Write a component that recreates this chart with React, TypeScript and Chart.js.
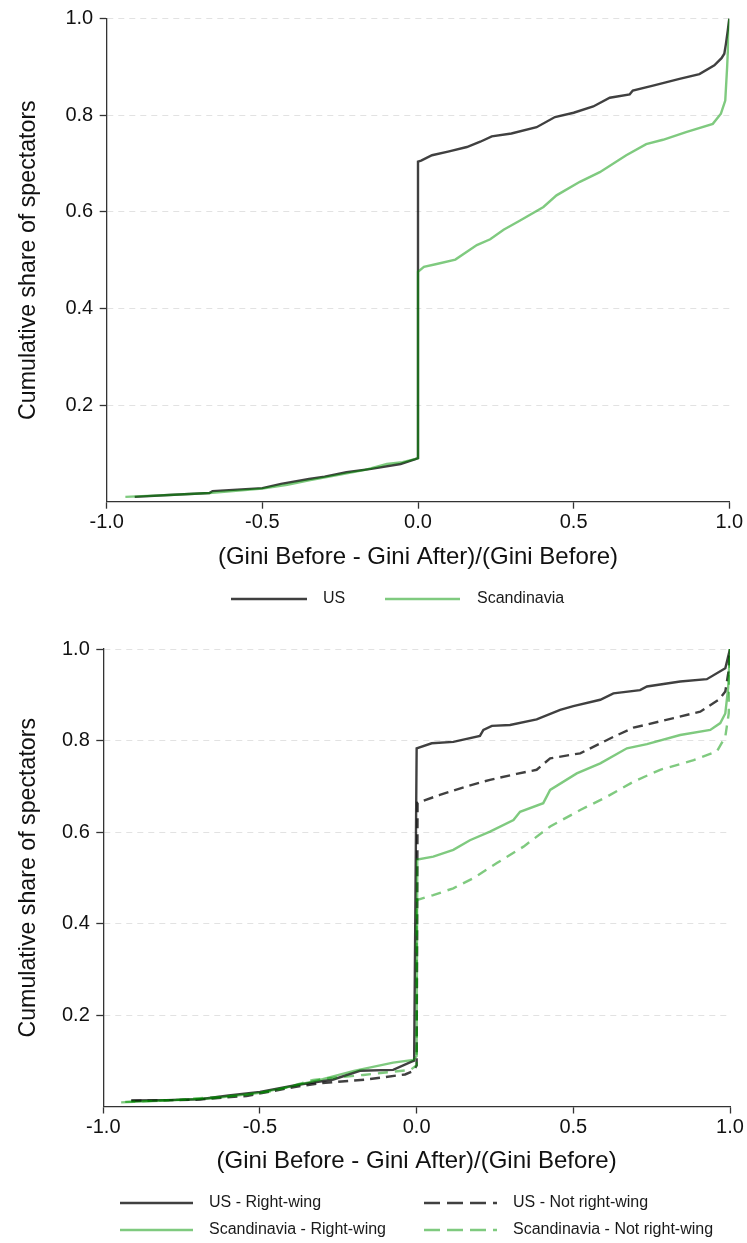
import React, { useEffect, useRef } from 'react';
import { Chart, registerables } from 'chart.js';

Chart.register(...registerables);

const FONT = '"Liberation Sans", Arial, Helvetica, sans-serif';
Chart.defaults.font.family = FONT;

const DARK = 'rgba(0,0,0,0.75)';
const GREEN = 'rgba(0,150,0,0.5)';

const X_TITLE = '(Gini Before - Gini After)/(Gini Before)';
const Y_TITLE = 'Cumulative share of spectators';
const xTicks = [-1, -0.5, 0, 0.5, 1];
const yTicks = [0.2, 0.4, 0.6, 0.8, 1.0];

// ---- Top panel ----
const topUsX = [-0.91, -0.8, -0.67, -0.66, -0.5, -0.44, -0.35, -0.3, -0.23, -0.15, -0.056, -0.008, 0, 0, 0.01, 0.045, 0.1, 0.157, 0.2, 0.237, 0.3, 0.381, 0.44, 0.5, 0.563, 0.616, 0.68, 0.69, 0.755, 0.84, 0.904, 0.952, 0.975, 0.984, 0.989, 0.995, 1.0];
const topUsY = [0.010, 0.014, 0.018, 0.022, 0.028, 0.037, 0.047, 0.052, 0.061, 0.068, 0.078, 0.088, 0.09, 0.704, 0.706, 0.717, 0.725, 0.734, 0.745, 0.756, 0.762, 0.775, 0.796, 0.805, 0.818, 0.836, 0.843, 0.851, 0.861, 0.875, 0.885, 0.903, 0.918, 0.927, 0.947, 0.975, 1.0];

const topScX = [-0.94, -0.8, -0.67, -0.5, -0.42, -0.35, -0.25, -0.17, -0.1, -0.05, -0.01, 0, 0, 0.019, 0.06, 0.12, 0.189, 0.232, 0.275, 0.328, 0.403, 0.445, 0.52, 0.584, 0.669, 0.733, 0.787, 0.861, 0.947, 0.973, 0.987, 0.993, 1.0];
const topScY = [0.010, 0.014, 0.018, 0.027, 0.035, 0.044, 0.056, 0.066, 0.078, 0.082, 0.088, 0.09, 0.476, 0.486, 0.492, 0.501, 0.531, 0.543, 0.563, 0.582, 0.61, 0.634, 0.662, 0.682, 0.717, 0.74, 0.749, 0.765, 0.782, 0.803, 0.83, 0.899, 1.0];

// ---- Bottom panel ----
const usRightX = [-0.911, -0.8, -0.692, -0.6, -0.5, -0.383, -0.266, -0.181, -0.075, -0.016, -0.008, 0, 0.048, 0.117, 0.202, 0.213, 0.24, 0.298, 0.383, 0.458, 0.5, 0.586, 0.628, 0.713, 0.735, 0.841, 0.926, 0.985, 1.0];
const usRightY = [0.013, 0.014, 0.016, 0.024, 0.032, 0.047, 0.059, 0.078, 0.08, 0.098, 0.1, 0.783, 0.794, 0.797, 0.81, 0.823, 0.832, 0.834, 0.846, 0.867, 0.875, 0.889, 0.903, 0.91, 0.918, 0.929, 0.934, 0.958, 1.0];

const usNotX = [-0.91, -0.7, -0.543, -0.394, -0.309, -0.16, -0.037, -0.01, 0, 0.003, 0.074, 0.16, 0.234, 0.319, 0.383, 0.426, 0.522, 0.628, 0.692, 0.82, 0.905, 0.964, 0.985, 0.995, 1.0];
const usNotY = [0.012, 0.015, 0.023, 0.042, 0.051, 0.059, 0.07, 0.078, 0.09, 0.664, 0.681, 0.7, 0.714, 0.727, 0.736, 0.761, 0.772, 0.808, 0.828, 0.849, 0.863, 0.889, 0.907, 0.95, 1.0];

const scRightX = [-0.943, -0.8, -0.65, -0.5, -0.4, -0.3, -0.2, -0.075, -0.01, 0, 0.002, 0.053, 0.117, 0.17, 0.234, 0.309, 0.33, 0.404, 0.426, 0.511, 0.586, 0.671, 0.735, 0.841, 0.937, 0.969, 0.985, 0.994, 1.0];
const scRightY = [0.009, 0.013, 0.018, 0.03, 0.044, 0.06, 0.078, 0.096, 0.102, 0.11, 0.54, 0.546, 0.561, 0.582, 0.601, 0.626, 0.644, 0.663, 0.692, 0.728, 0.75, 0.783, 0.792, 0.812, 0.823, 0.838, 0.859, 0.914, 1.0];

const scNotX = [-0.93, -0.75, -0.55, -0.45, -0.33, -0.17, -0.02, 0, 0, 0.053, 0.117, 0.181, 0.256, 0.341, 0.426, 0.522, 0.607, 0.692, 0.777, 0.884, 0.958, 0.985, 0.996, 1.0];
const scNotY = [0.01, 0.015, 0.025, 0.035, 0.058, 0.069, 0.08, 0.09, 0.451, 0.462, 0.477, 0.499, 0.532, 0.568, 0.612, 0.648, 0.677, 0.71, 0.736, 0.757, 0.776, 0.808, 0.859, 1.0];

const pts = (xs: number[], ys: number[]) => xs.map((x, i) => ({ x, y: ys[i] }));

type LegendItem = { label: string; color: string; dash: number[]; x1: number; x2: number; tx: number; y: number };

function legendPlugin(items: LegendItem[]) {
  return {
    id: 'customLegend',
    afterDraw(chart: any) {
      const ctx = chart.ctx;
      ctx.save();
      items.forEach((it) => {
        ctx.beginPath();
        ctx.setLineDash(it.dash);
        ctx.strokeStyle = it.color;
        ctx.lineWidth = 2.5;
        ctx.moveTo(it.x1, it.y);
        ctx.lineTo(it.x2, it.y);
        ctx.stroke();
        ctx.setLineDash([]);
        ctx.fillStyle = '#1a1a1a';
        ctx.font = `16px ${FONT}`;
        ctx.textBaseline = 'middle';
        ctx.textAlign = 'left';
        ctx.fillText(it.label, it.tx, it.y);
      });
      ctx.restore();
    },
  };
}

type Geom = { top: number; left: number; right: number; bottom: number; titlePad: number };

function buildConfig(datasets: any[], g: Geom, legend: LegendItem[]): any {
  return {
    type: 'line',
    data: { datasets },
    options: {
      animation: false,
      responsive: false,
      layout: { padding: { top: g.top, right: g.right, bottom: g.bottom, left: 0 } },
      plugins: { legend: { display: false }, tooltip: { enabled: false } },
      elements: { point: { radius: 0 }, line: { tension: 0, borderWidth: 2.4 } },
      scales: {
        x: {
          type: 'linear',
          min: -1,
          max: 1,
          afterBuildTicks: (s: any) => {
            s.ticks = xTicks.map((v) => ({ value: v }));
          },
          afterFit: (s: any) => {
            s.height = 75;
          },
          ticks: {
            callback: (v: any) => Number(v).toFixed(1),
            font: { size: 20, family: FONT },
            color: '#111',
            padding: 1.5,
            maxRotation: 0,
            autoSkip: false,
          },
          grid: { drawOnChartArea: false, tickLength: 7, tickColor: '#333', tickWidth: 1.3 },
          border: { color: '#333', width: 1.3 },
          title: {
            display: true,
            text: X_TITLE,
            font: { size: 24, family: FONT },
            color: '#111',
            padding: { top: 0, bottom: g.titlePad },
          },
        },
        y: {
          type: 'linear',
          min: 0,
          max: 1,
          afterBuildTicks: (s: any) => {
            s.ticks = yTicks.map((v) => ({ value: v }));
          },
          afterFit: (s: any) => {
            s.width = g.left;
          },
          ticks: {
            callback: (v: any) => Number(v).toFixed(1),
            font: { size: 20, family: FONT },
            color: '#111',
            padding: 6.5,
            autoSkip: false,
          },
          grid: { color: '#e2e2e2', lineWidth: 1, tickLength: 7, tickColor: '#333', tickWidth: 1.3 },
          border: { color: '#333', width: 1.3, dash: [6, 5] },
          title: {
            display: true,
            text: Y_TITLE,
            font: { size: 23.2, family: FONT },
            color: '#111',
            padding: { top: 15, bottom: 0 },
          },
        },
      },
    },
    plugins: [legendPlugin(legend)],
  };
}

function topConfig() {
  const datasets = [
    { label: 'Scandinavia', data: pts(topScX, topScY), borderColor: GREEN, backgroundColor: GREEN, fill: false },
    { label: 'US', data: pts(topUsX, topUsY), borderColor: DARK, backgroundColor: DARK, fill: false },
  ];
  const legend: LegendItem[] = [
    { label: 'US', color: DARK, dash: [], x1: 231, x2: 307, tx: 323, y: 599 },
    { label: 'Scandinavia', color: GREEN, dash: [], x1: 385, x2: 460, tx: 477, y: 599 },
  ];
  return buildConfig(datasets, { top: 18, left: 106.7, right: 17.7, bottom: 43.3, titlePad: 5.3 }, legend);
}

function bottomConfig() {
  const datasets = [
    { label: 'Scandinavia - Right-wing', data: pts(scRightX, scRightY), borderColor: GREEN, fill: false },
    { label: 'Scandinavia - Not right-wing', data: pts(scNotX, scNotY), borderColor: GREEN, borderDash: [10, 7], fill: false },
    { label: 'US - Right-wing', data: pts(usRightX, usRightY), borderColor: DARK, fill: false },
    { label: 'US - Not right-wing', data: pts(usNotX, usNotY), borderColor: DARK, borderDash: [10, 6], fill: false },
  ];
  const legend: LegendItem[] = [
    { label: 'US - Right-wing', color: DARK, dash: [], x1: 120, x2: 193, tx: 209, y: 583 },
    { label: 'US - Not right-wing', color: DARK, dash: [16, 7], x1: 424, x2: 497, tx: 513, y: 583 },
    { label: 'Scandinavia - Right-wing', color: GREEN, dash: [], x1: 120, x2: 193, tx: 209, y: 610 },
    { label: 'Scandinavia - Not right-wing', color: GREEN, dash: [16, 7], x1: 424, x2: 497, tx: 513, y: 610 },
  ];
  return buildConfig(datasets, { top: 29, left: 103.3, right: 17, bottom: 61.5, titlePad: 5.6 }, legend);
}

function ChartCanvas({ make, height }: { make: () => any; height: number }) {
  const ref = useRef<HTMLCanvasElement | null>(null);
  useEffect(() => {
    if (!ref.current) return;
    const chart = new Chart(ref.current, make());
    return () => chart.destroy();
  }, []);
  return <canvas ref={ref} width={747} height={height} style={{ display: 'block', width: 747, height }} />;
}

export default function App() {
  return (
    <div style={{ position: 'absolute', left: 0, top: 0, width: 747, height: 1243, background: '#fff' }}>
      <ChartCanvas make={topConfig} height={620} />
      <ChartCanvas make={bottomConfig} height={623} />
    </div>
  );
}
